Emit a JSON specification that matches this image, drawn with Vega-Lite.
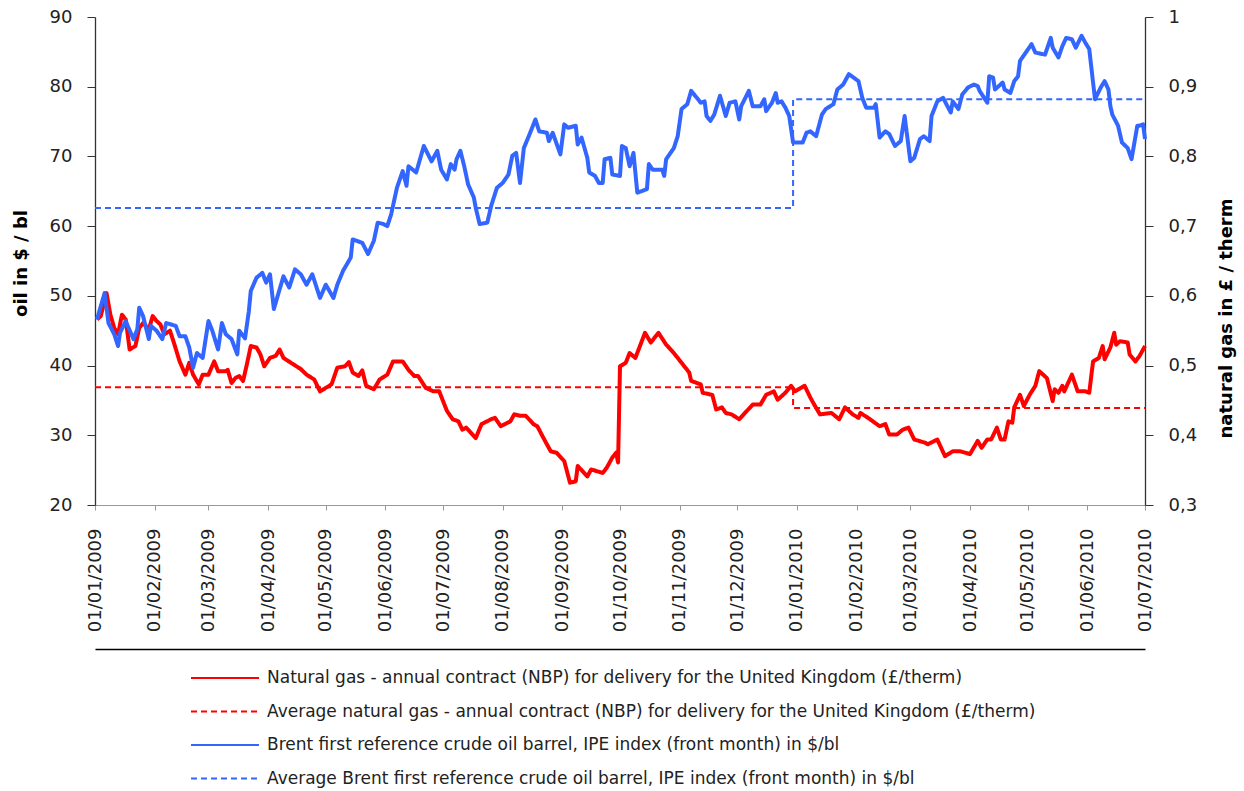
{
  "$schema": "https://vega.github.io/schema/vega-lite/v6.json",
  "width": 1050,
  "height": 488,
  "autosize": {"type": "none"},
  "padding": {"left": 95, "top": 17, "right": 99, "bottom": 286},
  "background": "white",
  "config": {
    "view": {"stroke": null},
    "axis": {
      "labelFont": "DejaVu Sans",
      "labelFontSize": 18,
      "labelColor": "#222222",
      "titleFont": "DejaVu Sans",
      "titleFontSize": 18,
      "titleFontWeight": "bold",
      "titleColor": "#000000",
      "grid": false
    },
    "legend": {
      "labelFont": "DejaVu Sans",
      "labelFontSize": 17,
      "labelColor": "#222222"
    }
  },
  "datasets": {
    "gas": [
      {"date": "2009-01-02", "value": 0.566}, {"date": "2009-01-04", "value": 0.571}, {"date": "2009-01-07", "value": 0.604},
      {"date": "2009-01-09", "value": 0.573}, {"date": "2009-01-11", "value": 0.554}, {"date": "2009-01-13", "value": 0.545},
      {"date": "2009-01-15", "value": 0.573}, {"date": "2009-01-17", "value": 0.566}, {"date": "2009-01-19", "value": 0.523},
      {"date": "2009-01-22", "value": 0.528}, {"date": "2009-01-24", "value": 0.554}, {"date": "2009-01-26", "value": 0.561},
      {"date": "2009-01-29", "value": 0.552}, {"date": "2009-01-31", "value": 0.571}, {"date": "2009-02-02", "value": 0.564},
      {"date": "2009-02-04", "value": 0.559}, {"date": "2009-02-06", "value": 0.545}, {"date": "2009-02-09", "value": 0.55},
      {"date": "2009-02-11", "value": 0.533}, {"date": "2009-02-14", "value": 0.506}, {"date": "2009-02-17", "value": 0.487},
      {"date": "2009-02-19", "value": 0.504}, {"date": "2009-02-21", "value": 0.487}, {"date": "2009-02-24", "value": 0.473},
      {"date": "2009-02-26", "value": 0.487}, {"date": "2009-03-01", "value": 0.487}, {"date": "2009-03-04", "value": 0.506},
      {"date": "2009-03-06", "value": 0.492}, {"date": "2009-03-10", "value": 0.492}, {"date": "2009-03-11", "value": 0.494},
      {"date": "2009-03-13", "value": 0.475}, {"date": "2009-03-15", "value": 0.482}, {"date": "2009-03-17", "value": 0.485},
      {"date": "2009-03-19", "value": 0.478}, {"date": "2009-03-21", "value": 0.502}, {"date": "2009-03-23", "value": 0.528},
      {"date": "2009-03-26", "value": 0.526}, {"date": "2009-03-28", "value": 0.516}, {"date": "2009-03-30", "value": 0.499},
      {"date": "2009-04-02", "value": 0.511}, {"date": "2009-04-05", "value": 0.514}, {"date": "2009-04-07", "value": 0.523},
      {"date": "2009-04-09", "value": 0.511}, {"date": "2009-04-14", "value": 0.502}, {"date": "2009-04-18", "value": 0.495},
      {"date": "2009-04-21", "value": 0.487}, {"date": "2009-04-25", "value": 0.48}, {"date": "2009-04-28", "value": 0.463},
      {"date": "2009-05-01", "value": 0.468}, {"date": "2009-05-04", "value": 0.473}, {"date": "2009-05-07", "value": 0.497},
      {"date": "2009-05-11", "value": 0.499}, {"date": "2009-05-13", "value": 0.505}, {"date": "2009-05-15", "value": 0.49},
      {"date": "2009-05-18", "value": 0.485}, {"date": "2009-05-20", "value": 0.493}, {"date": "2009-05-22", "value": 0.471},
      {"date": "2009-05-26", "value": 0.466}, {"date": "2009-05-29", "value": 0.48}, {"date": "2009-06-02", "value": 0.487},
      {"date": "2009-06-05", "value": 0.506}, {"date": "2009-06-10", "value": 0.506}, {"date": "2009-06-13", "value": 0.494},
      {"date": "2009-06-16", "value": 0.485}, {"date": "2009-06-18", "value": 0.485}, {"date": "2009-06-22", "value": 0.468},
      {"date": "2009-06-26", "value": 0.463}, {"date": "2009-06-29", "value": 0.463}, {"date": "2009-07-03", "value": 0.435},
      {"date": "2009-07-06", "value": 0.423}, {"date": "2009-07-09", "value": 0.42}, {"date": "2009-07-11", "value": 0.408},
      {"date": "2009-07-13", "value": 0.411}, {"date": "2009-07-18", "value": 0.396}, {"date": "2009-07-21", "value": 0.416},
      {"date": "2009-07-26", "value": 0.423}, {"date": "2009-07-28", "value": 0.425}, {"date": "2009-07-31", "value": 0.413},
      {"date": "2009-08-05", "value": 0.42}, {"date": "2009-08-07", "value": 0.43}, {"date": "2009-08-10", "value": 0.428},
      {"date": "2009-08-13", "value": 0.428}, {"date": "2009-08-17", "value": 0.416}, {"date": "2009-08-19", "value": 0.413},
      {"date": "2009-08-23", "value": 0.392}, {"date": "2009-08-26", "value": 0.377}, {"date": "2009-08-29", "value": 0.375},
      {"date": "2009-09-02", "value": 0.363}, {"date": "2009-09-05", "value": 0.332}, {"date": "2009-09-08", "value": 0.334},
      {"date": "2009-09-09", "value": 0.356}, {"date": "2009-09-14", "value": 0.341}, {"date": "2009-09-16", "value": 0.351},
      {"date": "2009-09-22", "value": 0.346}, {"date": "2009-09-24", "value": 0.353}, {"date": "2009-09-27", "value": 0.368},
      {"date": "2009-09-29", "value": 0.375}, {"date": "2009-09-30", "value": 0.361}, {"date": "2009-10-01", "value": 0.499},
      {"date": "2009-10-04", "value": 0.504}, {"date": "2009-10-06", "value": 0.518}, {"date": "2009-10-09", "value": 0.511},
      {"date": "2009-10-14", "value": 0.547}, {"date": "2009-10-17", "value": 0.533}, {"date": "2009-10-21", "value": 0.547},
      {"date": "2009-10-25", "value": 0.53}, {"date": "2009-10-29", "value": 0.518}, {"date": "2009-11-02", "value": 0.504},
      {"date": "2009-11-06", "value": 0.49}, {"date": "2009-11-07", "value": 0.478}, {"date": "2009-11-12", "value": 0.473},
      {"date": "2009-11-13", "value": 0.461}, {"date": "2009-11-18", "value": 0.458}, {"date": "2009-11-20", "value": 0.437},
      {"date": "2009-11-23", "value": 0.44}, {"date": "2009-11-25", "value": 0.432}, {"date": "2009-11-28", "value": 0.43},
      {"date": "2009-12-02", "value": 0.423}, {"date": "2009-12-06", "value": 0.435}, {"date": "2009-12-09", "value": 0.444},
      {"date": "2009-12-13", "value": 0.444}, {"date": "2009-12-16", "value": 0.458}, {"date": "2009-12-20", "value": 0.463},
      {"date": "2009-12-22", "value": 0.451}, {"date": "2009-12-26", "value": 0.461}, {"date": "2009-12-29", "value": 0.471},
      {"date": "2009-12-31", "value": 0.463}, {"date": "2010-01-05", "value": 0.471}, {"date": "2010-01-08", "value": 0.454},
      {"date": "2010-01-10", "value": 0.444}, {"date": "2010-01-13", "value": 0.43}, {"date": "2010-01-19", "value": 0.432},
      {"date": "2010-01-23", "value": 0.423}, {"date": "2010-01-26", "value": 0.44}, {"date": "2010-01-30", "value": 0.43},
      {"date": "2010-02-02", "value": 0.425}, {"date": "2010-02-03", "value": 0.432}, {"date": "2010-02-07", "value": 0.425},
      {"date": "2010-02-13", "value": 0.413}, {"date": "2010-02-16", "value": 0.416}, {"date": "2010-02-18", "value": 0.401},
      {"date": "2010-02-22", "value": 0.401}, {"date": "2010-02-25", "value": 0.408}, {"date": "2010-02-28", "value": 0.411},
      {"date": "2010-03-03", "value": 0.394}, {"date": "2010-03-09", "value": 0.389}, {"date": "2010-03-10", "value": 0.387},
      {"date": "2010-03-15", "value": 0.394}, {"date": "2010-03-19", "value": 0.37}, {"date": "2010-03-23", "value": 0.377},
      {"date": "2010-03-27", "value": 0.377}, {"date": "2010-04-01", "value": 0.373}, {"date": "2010-04-05", "value": 0.392},
      {"date": "2010-04-07", "value": 0.382}, {"date": "2010-04-10", "value": 0.394}, {"date": "2010-04-12", "value": 0.394},
      {"date": "2010-04-15", "value": 0.411}, {"date": "2010-04-17", "value": 0.394}, {"date": "2010-04-19", "value": 0.394},
      {"date": "2010-04-21", "value": 0.42}, {"date": "2010-04-23", "value": 0.418}, {"date": "2010-04-24", "value": 0.44},
      {"date": "2010-04-27", "value": 0.458}, {"date": "2010-04-29", "value": 0.442}, {"date": "2010-05-02", "value": 0.458},
      {"date": "2010-05-05", "value": 0.471}, {"date": "2010-05-07", "value": 0.492}, {"date": "2010-05-11", "value": 0.482},
      {"date": "2010-05-14", "value": 0.449}, {"date": "2010-05-15", "value": 0.466}, {"date": "2010-05-17", "value": 0.461},
      {"date": "2010-05-19", "value": 0.471}, {"date": "2010-05-20", "value": 0.463}, {"date": "2010-05-24", "value": 0.487},
      {"date": "2010-05-27", "value": 0.463}, {"date": "2010-05-31", "value": 0.463}, {"date": "2010-06-02", "value": 0.461},
      {"date": "2010-06-04", "value": 0.506}, {"date": "2010-06-07", "value": 0.511}, {"date": "2010-06-09", "value": 0.528},
      {"date": "2010-06-10", "value": 0.509}, {"date": "2010-06-13", "value": 0.526}, {"date": "2010-06-15", "value": 0.547},
      {"date": "2010-06-16", "value": 0.53}, {"date": "2010-06-18", "value": 0.535}, {"date": "2010-06-22", "value": 0.533},
      {"date": "2010-06-23", "value": 0.516}, {"date": "2010-06-26", "value": 0.506}, {"date": "2010-06-28", "value": 0.513},
      {"date": "2010-07-01", "value": 0.528}
    ],
    "gas_avg": [
      {"date": "2009-01-01", "value": 0.469},
      {"date": "2009-12-30", "value": 0.439},
      {"date": "2010-07-01", "value": 0.439}
    ],
    "oil": [
      {"date": "2009-01-02", "value": 46.6}, {"date": "2009-01-06", "value": 50.4}, {"date": "2009-01-08", "value": 46.1},
      {"date": "2009-01-11", "value": 44.5}, {"date": "2009-01-13", "value": 42.8}, {"date": "2009-01-14", "value": 44.7},
      {"date": "2009-01-17", "value": 46.4}, {"date": "2009-01-18", "value": 45.7}, {"date": "2009-01-21", "value": 43.8},
      {"date": "2009-01-23", "value": 45.2}, {"date": "2009-01-24", "value": 48.3}, {"date": "2009-01-26", "value": 47.1},
      {"date": "2009-01-29", "value": 43.8}, {"date": "2009-01-30", "value": 45.7}, {"date": "2009-02-02", "value": 45.0},
      {"date": "2009-02-05", "value": 43.8}, {"date": "2009-02-07", "value": 46.1}, {"date": "2009-02-12", "value": 45.7},
      {"date": "2009-02-14", "value": 44.2}, {"date": "2009-02-17", "value": 44.2}, {"date": "2009-02-19", "value": 42.6},
      {"date": "2009-02-21", "value": 39.7}, {"date": "2009-02-23", "value": 41.8}, {"date": "2009-02-26", "value": 41.1},
      {"date": "2009-03-01", "value": 46.4}, {"date": "2009-03-03", "value": 45.0}, {"date": "2009-03-06", "value": 42.3},
      {"date": "2009-03-08", "value": 46.1}, {"date": "2009-03-10", "value": 44.5}, {"date": "2009-03-13", "value": 43.8},
      {"date": "2009-03-16", "value": 41.6}, {"date": "2009-03-17", "value": 45.0}, {"date": "2009-03-20", "value": 43.9},
      {"date": "2009-03-22", "value": 47.8}, {"date": "2009-03-23", "value": 50.7}, {"date": "2009-03-26", "value": 52.6},
      {"date": "2009-03-29", "value": 53.3}, {"date": "2009-03-31", "value": 51.9}, {"date": "2009-04-02", "value": 53.1},
      {"date": "2009-04-04", "value": 48.1}, {"date": "2009-04-06", "value": 50.0}, {"date": "2009-04-09", "value": 52.8},
      {"date": "2009-04-12", "value": 51.2}, {"date": "2009-04-15", "value": 53.8}, {"date": "2009-04-18", "value": 53.1},
      {"date": "2009-04-21", "value": 51.6}, {"date": "2009-04-24", "value": 53.1}, {"date": "2009-04-28", "value": 49.7},
      {"date": "2009-05-01", "value": 51.6}, {"date": "2009-05-05", "value": 49.7}, {"date": "2009-05-07", "value": 51.6},
      {"date": "2009-05-10", "value": 53.6}, {"date": "2009-05-14", "value": 55.5}, {"date": "2009-05-15", "value": 58.1},
      {"date": "2009-05-20", "value": 57.6}, {"date": "2009-05-23", "value": 56.0}, {"date": "2009-05-26", "value": 57.9},
      {"date": "2009-05-28", "value": 60.5}, {"date": "2009-05-31", "value": 60.3}, {"date": "2009-06-02", "value": 60.0},
      {"date": "2009-06-04", "value": 61.7}, {"date": "2009-06-07", "value": 65.5}, {"date": "2009-06-10", "value": 67.9},
      {"date": "2009-06-12", "value": 65.8}, {"date": "2009-06-13", "value": 68.6}, {"date": "2009-06-17", "value": 67.7},
      {"date": "2009-06-21", "value": 71.5}, {"date": "2009-06-25", "value": 69.3}, {"date": "2009-06-28", "value": 70.8},
      {"date": "2009-06-30", "value": 68.1}, {"date": "2009-07-03", "value": 66.7}, {"date": "2009-07-05", "value": 68.9},
      {"date": "2009-07-07", "value": 68.1}, {"date": "2009-07-08", "value": 69.6}, {"date": "2009-07-10", "value": 70.8},
      {"date": "2009-07-12", "value": 68.6}, {"date": "2009-07-14", "value": 66.0}, {"date": "2009-07-17", "value": 64.1},
      {"date": "2009-07-18", "value": 62.6}, {"date": "2009-07-20", "value": 60.3}, {"date": "2009-07-24", "value": 60.5},
      {"date": "2009-07-26", "value": 62.9}, {"date": "2009-07-29", "value": 65.5}, {"date": "2009-08-01", "value": 66.2},
      {"date": "2009-08-04", "value": 67.4}, {"date": "2009-08-06", "value": 70.1}, {"date": "2009-08-08", "value": 70.5},
      {"date": "2009-08-10", "value": 66.2}, {"date": "2009-08-12", "value": 71.2}, {"date": "2009-08-15", "value": 73.2},
      {"date": "2009-08-18", "value": 75.3}, {"date": "2009-08-20", "value": 73.6}, {"date": "2009-08-24", "value": 73.4},
      {"date": "2009-08-25", "value": 72.2}, {"date": "2009-08-27", "value": 73.4}, {"date": "2009-08-31", "value": 70.3},
      {"date": "2009-09-02", "value": 74.6}, {"date": "2009-09-04", "value": 74.1}, {"date": "2009-09-08", "value": 74.4},
      {"date": "2009-09-09", "value": 71.7}, {"date": "2009-09-11", "value": 72.7}, {"date": "2009-09-14", "value": 69.8},
      {"date": "2009-09-15", "value": 67.7}, {"date": "2009-09-18", "value": 67.2}, {"date": "2009-09-20", "value": 66.2},
      {"date": "2009-09-22", "value": 66.2}, {"date": "2009-09-23", "value": 69.6}, {"date": "2009-09-26", "value": 69.8},
      {"date": "2009-09-27", "value": 67.4}, {"date": "2009-10-01", "value": 67.2}, {"date": "2009-10-02", "value": 71.5},
      {"date": "2009-10-04", "value": 71.2}, {"date": "2009-10-06", "value": 68.6}, {"date": "2009-10-08", "value": 70.5},
      {"date": "2009-10-10", "value": 64.8}, {"date": "2009-10-15", "value": 65.3}, {"date": "2009-10-16", "value": 68.9},
      {"date": "2009-10-18", "value": 68.1}, {"date": "2009-10-23", "value": 68.1}, {"date": "2009-10-24", "value": 67.2},
      {"date": "2009-10-25", "value": 69.6}, {"date": "2009-10-29", "value": 71.2}, {"date": "2009-10-31", "value": 72.9},
      {"date": "2009-11-02", "value": 76.8}, {"date": "2009-11-05", "value": 77.5}, {"date": "2009-11-07", "value": 79.4},
      {"date": "2009-11-10", "value": 78.4}, {"date": "2009-11-12", "value": 77.7}, {"date": "2009-11-14", "value": 77.9},
      {"date": "2009-11-15", "value": 75.8}, {"date": "2009-11-17", "value": 75.1}, {"date": "2009-11-19", "value": 76.0},
      {"date": "2009-11-22", "value": 78.7}, {"date": "2009-11-25", "value": 75.8}, {"date": "2009-11-27", "value": 77.7},
      {"date": "2009-11-30", "value": 77.9}, {"date": "2009-12-02", "value": 75.3}, {"date": "2009-12-03", "value": 77.2},
      {"date": "2009-12-07", "value": 79.4}, {"date": "2009-12-09", "value": 77.2}, {"date": "2009-12-13", "value": 77.2},
      {"date": "2009-12-15", "value": 78.2}, {"date": "2009-12-16", "value": 76.5}, {"date": "2009-12-19", "value": 77.7},
      {"date": "2009-12-21", "value": 79.1}, {"date": "2009-12-22", "value": 77.7}, {"date": "2009-12-24", "value": 77.9},
      {"date": "2009-12-26", "value": 77.0}, {"date": "2009-12-28", "value": 75.8}, {"date": "2009-12-30", "value": 72.0},
      {"date": "2010-01-04", "value": 72.0}, {"date": "2010-01-06", "value": 73.4}, {"date": "2010-01-08", "value": 73.6},
      {"date": "2010-01-11", "value": 72.9}, {"date": "2010-01-14", "value": 76.0}, {"date": "2010-01-16", "value": 76.8},
      {"date": "2010-01-20", "value": 77.5}, {"date": "2010-01-22", "value": 79.6}, {"date": "2010-01-25", "value": 80.3},
      {"date": "2010-01-28", "value": 81.8}, {"date": "2010-02-02", "value": 80.8}, {"date": "2010-02-04", "value": 78.4},
      {"date": "2010-02-06", "value": 77.0}, {"date": "2010-02-10", "value": 77.0}, {"date": "2010-02-11", "value": 77.5},
      {"date": "2010-02-13", "value": 72.7}, {"date": "2010-02-16", "value": 73.6}, {"date": "2010-02-18", "value": 73.2},
      {"date": "2010-02-21", "value": 71.5}, {"date": "2010-02-24", "value": 72.2}, {"date": "2010-02-26", "value": 75.8},
      {"date": "2010-03-01", "value": 69.3}, {"date": "2010-03-03", "value": 69.8}, {"date": "2010-03-06", "value": 72.5},
      {"date": "2010-03-08", "value": 72.9}, {"date": "2010-03-11", "value": 72.2}, {"date": "2010-03-12", "value": 75.8},
      {"date": "2010-03-15", "value": 77.9}, {"date": "2010-03-18", "value": 78.4}, {"date": "2010-03-22", "value": 76.3},
      {"date": "2010-03-23", "value": 77.9}, {"date": "2010-03-26", "value": 76.8}, {"date": "2010-03-28", "value": 78.9},
      {"date": "2010-03-31", "value": 79.9}, {"date": "2010-04-03", "value": 80.3}, {"date": "2010-04-05", "value": 80.1},
      {"date": "2010-04-06", "value": 79.4}, {"date": "2010-04-10", "value": 77.7}, {"date": "2010-04-11", "value": 81.5},
      {"date": "2010-04-13", "value": 81.3}, {"date": "2010-04-14", "value": 79.6}, {"date": "2010-04-18", "value": 80.6},
      {"date": "2010-04-19", "value": 79.6}, {"date": "2010-04-22", "value": 79.1}, {"date": "2010-04-24", "value": 80.8},
      {"date": "2010-04-26", "value": 81.5}, {"date": "2010-04-27", "value": 83.7}, {"date": "2010-04-30", "value": 84.9},
      {"date": "2010-05-03", "value": 86.1}, {"date": "2010-05-05", "value": 84.9}, {"date": "2010-05-10", "value": 84.6},
      {"date": "2010-05-13", "value": 87.0}, {"date": "2010-05-14", "value": 85.6}, {"date": "2010-05-17", "value": 84.2},
      {"date": "2010-05-19", "value": 85.8}, {"date": "2010-05-21", "value": 87.0}, {"date": "2010-05-24", "value": 86.8},
      {"date": "2010-05-26", "value": 85.6}, {"date": "2010-05-29", "value": 87.3}, {"date": "2010-05-31", "value": 86.3},
      {"date": "2010-06-02", "value": 85.4}, {"date": "2010-06-05", "value": 78.2}, {"date": "2010-06-08", "value": 79.9},
      {"date": "2010-06-10", "value": 80.8}, {"date": "2010-06-12", "value": 79.6}, {"date": "2010-06-13", "value": 77.2},
      {"date": "2010-06-14", "value": 76.0}, {"date": "2010-06-17", "value": 74.4}, {"date": "2010-06-19", "value": 72.0},
      {"date": "2010-06-22", "value": 71.2}, {"date": "2010-06-24", "value": 69.6}, {"date": "2010-06-27", "value": 74.4},
      {"date": "2010-06-28", "value": 74.4}, {"date": "2010-06-30", "value": 74.6}, {"date": "2010-07-01", "value": 72.5}
    ],
    "oil_avg": [
      {"date": "2009-01-01", "value": 62.6},
      {"date": "2009-12-30", "value": 78.2},
      {"date": "2010-07-01", "value": 78.2}
    ]
  },
  "layer": [
    {
      "data": {"name": "gas_avg"},
      "mark": {"type": "line", "strokeWidth": 2, "interpolate": "step-after"},
      "encoding": {
        "x": {"field": "date", "type": "temporal", "scale": {"type": "utc", "nice": false, "domain": [{"year": 2009, "month": 1, "date": 1, "utc": true}, {"year": 2010, "month": 7, "date": 1, "utc": true}]}, "axis": null},
        "y": {"field": "value", "type": "quantitative", "scale": {"domain": [0.3, 1], "zero": false, "nice": false}, "axis": null},
        "color": {"datum": "Average natural gas - annual contract (NBP) for delivery for the United Kingdom (£/therm)", "type": "nominal",
          "scale": {"domain": ["Natural gas - annual contract (NBP) for delivery for the United Kingdom (£/therm)", "Average natural gas - annual contract (NBP) for delivery for the United Kingdom (£/therm)", "Brent first reference crude oil barrel, IPE index (front month) in $/bl", "Average Brent first reference crude oil barrel, IPE index (front month) in $/bl"], "range": ["#ff0000", "#ff0000", "#3366ff", "#3366ff"]},
          "legend": {"title": null, "orient": "none", "legendX": 112, "legendY": 643, "direction": "vertical", "symbolType": "M-2,0H2", "symbolSize": 1156, "symbolStrokeWidth": 2, "labelOffset": 24, "labelLimit": 2000, "rowPadding": 7.5, "padding": 0}},
        "strokeDash": {"datum": "Average natural gas - annual contract (NBP) for delivery for the United Kingdom (£/therm)", "type": "nominal",
          "scale": {"domain": ["Natural gas - annual contract (NBP) for delivery for the United Kingdom (£/therm)", "Average natural gas - annual contract (NBP) for delivery for the United Kingdom (£/therm)", "Brent first reference crude oil barrel, IPE index (front month) in $/bl", "Average Brent first reference crude oil barrel, IPE index (front month) in $/bl"], "range": [[1, 0], [6, 4], [1, 0], [6, 4]]},
          "legend": {"title": null, "orient": "none", "legendX": 112, "legendY": 643, "direction": "vertical", "symbolType": "M-2,0H2", "symbolSize": 1156, "symbolStrokeWidth": 2, "labelOffset": 24, "labelLimit": 2000, "rowPadding": 7.5, "padding": 0}}
      }
    },
    {
      "data": {"name": "oil_avg"},
      "mark": {"type": "line", "strokeWidth": 2, "interpolate": "step-after"},
      "encoding": {
        "x": {"field": "date", "type": "temporal", "scale": {"type": "utc", "nice": false, "domain": [{"year": 2009, "month": 1, "date": 1, "utc": true}, {"year": 2010, "month": 7, "date": 1, "utc": true}]}, "axis": null},
        "y": {"field": "value", "type": "quantitative", "scale": {"domain": [20, 90], "zero": false, "nice": false}, "axis": null},
        "color": {"datum": "Average Brent first reference crude oil barrel, IPE index (front month) in $/bl", "type": "nominal"},
        "strokeDash": {"datum": "Average Brent first reference crude oil barrel, IPE index (front month) in $/bl", "type": "nominal"}
      }
    },
    {
      "data": {"name": "gas"},
      "mark": {"type": "line", "strokeWidth": 4, "strokeJoin": "round"},
      "encoding": {
        "x": {"field": "date", "type": "temporal", "scale": {"type": "utc", "nice": false, "domain": [{"year": 2009, "month": 1, "date": 1, "utc": true}, {"year": 2010, "month": 7, "date": 1, "utc": true}]},
          "axis": {"orient": "bottom", "title": null, "format": "%d/%m/%Y", "tickCount": {"interval": "month", "step": 1}, "labelAngle": -90, "labelPadding": 18, "tickSize": 5, "tickColor": "#999999", "domainColor": "#999999", "domainWidth": 1, "labelOverlap": false, "labelBound": false, "labelFlush": false, "labelFontSize": 18}},
        "y": {"field": "value", "type": "quantitative", "scale": {"domain": [0.3, 1], "zero": false, "nice": false},
          "axis": {"orient": "right", "values": [0.3, 0.4, 0.5, 0.6, 0.7, 0.8, 0.9, 1], "labelExpr": "replace(format(datum.value, '~g'), '.', ',')", "tickSize": 8, "labelPadding": 15, "domainColor": "#333333", "tickColor": "#333333", "domainWidth": 1.3, "title": "natural gas in £ / therm", "titleAngle": -90, "titleX": 81, "titleY": 301, "titleAlign": "center", "titleBaseline": "middle"}},
        "color": {"datum": "Natural gas - annual contract (NBP) for delivery for the United Kingdom (£/therm)", "type": "nominal"},
        "strokeDash": {"datum": "Natural gas - annual contract (NBP) for delivery for the United Kingdom (£/therm)", "type": "nominal"}
      }
    },
    {
      "data": {"name": "oil"},
      "mark": {"type": "line", "strokeWidth": 4, "strokeJoin": "round"},
      "encoding": {
        "x": {"field": "date", "type": "temporal", "scale": {"type": "utc", "nice": false, "domain": [{"year": 2009, "month": 1, "date": 1, "utc": true}, {"year": 2010, "month": 7, "date": 1, "utc": true}]},
          "axis": {"orient": "bottom", "title": null, "labels": false, "ticks": false, "offset": 144, "domain": true, "domainColor": "#000000", "domainWidth": 1.3}},
        "y": {"field": "value", "type": "quantitative", "scale": {"domain": [20, 90], "zero": false, "nice": false},
          "axis": {"orient": "left", "values": [20, 30, 40, 50, 60, 70, 80, 90], "tickSize": 8, "labelPadding": 15, "domainColor": "#333333", "tickColor": "#333333", "domainWidth": 1.3, "title": "oil in $ / bl", "titleAngle": -90, "titleX": -74, "titleY": 246, "titleAlign": "center", "titleBaseline": "middle"}},
        "color": {"datum": "Brent first reference crude oil barrel, IPE index (front month) in $/bl", "type": "nominal"},
        "strokeDash": {"datum": "Brent first reference crude oil barrel, IPE index (front month) in $/bl", "type": "nominal"}
      }
    }
  ],
  "resolve": {
    "scale": {"x": "independent", "y": "independent", "color": "shared", "strokeDash": "shared"},
    "axis": {"x": "independent", "y": "independent"}
  }
}
